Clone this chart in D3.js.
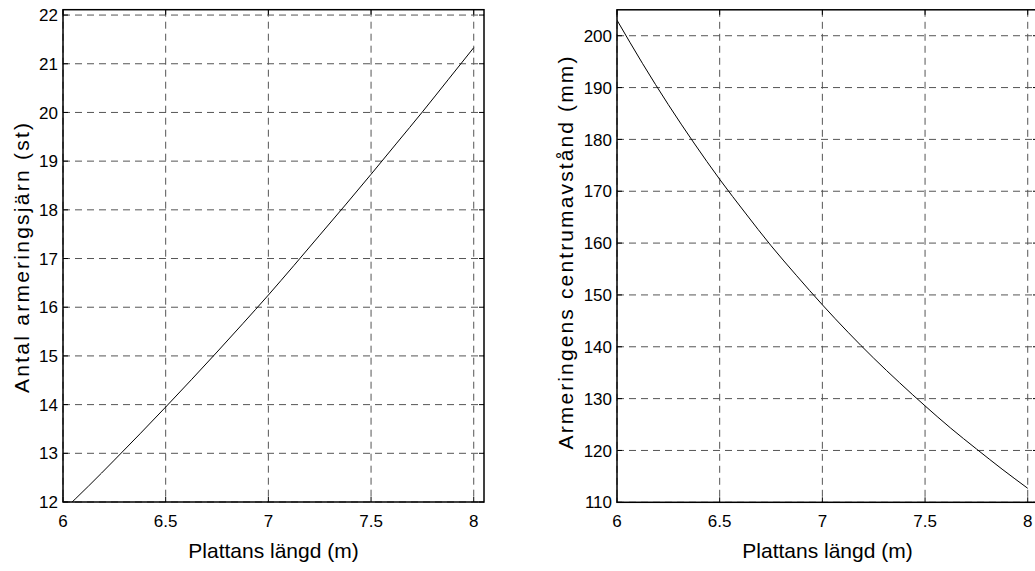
<!DOCTYPE html>
<html>
<head>
<meta charset="utf-8">
<script src="https://cdn.jsdelivr.net/npm/d3@7"></script>
<style>
  body { margin: 0; background: #fff; }
  text { font-family: "Liberation Sans", Arial, sans-serif; fill: #000; }
</style>
</head>
<body>
<svg id="chart" width="1035" height="571"></svg>
<script>
// plate length (m) read at these points
const lengths = [6, 6.125, 6.25, 6.375, 6.5, 6.625, 6.75, 6.875, 7,
                 7.125, 7.25, 7.375, 7.5, 7.625, 7.75, 7.875, 8];
// number of reinforcement bars (st)
const barCount = [11.82, 12.33, 12.86, 13.40, 13.95, 14.51, 15.08, 15.66, 16.25,
                  16.86, 17.48, 18.10, 18.73, 19.37, 20.01, 20.67, 21.33];
// bar spacing (mm)
const barSpacing = [203.0, 194.6, 186.7, 179.3, 172.3, 165.8, 159.5, 153.7, 148.1,
                    142.8, 137.8, 133.1, 128.6, 124.3, 120.3, 116.4, 112.7];

const xTicks = [6, 6.5, 7, 7.5, 8];
const countTicks = [12, 13, 14, 15, 16, 17, 18, 19, 20, 21, 22];
const spacingTicks = [110, 120, 130, 140, 150, 160, 170, 180, 190, 200];

const xLabel = "Plattans längd (m)";
const countLabel = "Antal armeringsjärn (st)";
const spacingLabel = "Armeringens centrumavstånd (mm)";

const svg = d3.select("#chart");

function drawPanel(id, box, yDomain, values, yTicks, yLabel, lab) {
  const x = d3.scaleLinear().domain([6, 8.05]).range([box.left, box.right]);
  const y = d3.scaleLinear().domain(yDomain).range([box.bottom, box.top]);
  const g = svg.append("g");

  g.append("clipPath").attr("id", id)
    .append("rect")
    .attr("x", box.left).attr("y", box.top)
    .attr("width", box.right - box.left).attr("height", box.bottom - box.top);

  // dashed grid
  g.selectAll(".vgrid").data(xTicks).enter().append("line")
    .attr("x1", d => x(d)).attr("x2", d => x(d))
    .attr("y1", box.top).attr("y2", box.bottom)
    .attr("stroke", "#555").attr("stroke-width", 1)
    .attr("stroke-dasharray", "7,5");
  g.selectAll(".hgrid").data(yTicks).enter().append("line")
    .attr("x1", box.left).attr("x2", box.right)
    .attr("y1", d => y(d)).attr("y2", d => y(d))
    .attr("stroke", "#555").attr("stroke-width", 1)
    .attr("stroke-dasharray", "7,5");

  // data line
  const line = d3.line()
    .x((d, i) => x(lengths[i]))
    .y(d => y(d))
    .curve(d3.curveMonotoneX);
  g.append("path").datum(values)
    .attr("clip-path", `url(#${id})`)
    .attr("fill", "none").attr("stroke", "#000").attr("stroke-width", 1)
    .attr("d", line);

  // inward ticks on all four sides
  const tl = 5;
  xTicks.forEach(t => {
    g.append("line").attr("x1", x(t)).attr("x2", x(t))
      .attr("y1", box.bottom).attr("y2", box.bottom - tl).attr("stroke", "#000");
    g.append("line").attr("x1", x(t)).attr("x2", x(t))
      .attr("y1", box.top).attr("y2", box.top + tl).attr("stroke", "#000");
  });
  yTicks.forEach(t => {
    g.append("line").attr("x1", box.left).attr("x2", box.left + tl)
      .attr("y1", y(t)).attr("y2", y(t)).attr("stroke", "#000");
    g.append("line").attr("x1", box.right).attr("x2", box.right - tl)
      .attr("y1", y(t)).attr("y2", y(t)).attr("stroke", "#000");
  });

  // box
  g.append("rect")
    .attr("x", box.left).attr("y", box.top)
    .attr("width", box.right - box.left).attr("height", box.bottom - box.top)
    .attr("fill", "none").attr("stroke", "#000").attr("stroke-width", 1.5);

  // tick labels
  g.selectAll(".xt").data(xTicks).enter().append("text")
    .attr("x", d => x(d)).attr("y", box.bottom + 25)
    .attr("text-anchor", "middle").attr("font-size", 17)
    .text(d => d);
  g.selectAll(".yt").data(yTicks).enter().append("text")
    .attr("x", box.left - 5).attr("y", d => y(d)).attr("dy", "0.36em")
    .attr("text-anchor", "end").attr("font-size", 17)
    .text(d => d);

  // axis titles
  g.append("text")
    .attr("x", (box.left + box.right) / 2).attr("y", 558)
    .attr("text-anchor", "middle").attr("font-size", 21)
    .text(xLabel);
  g.append("text")
    .attr("transform", `translate(${lab.x},${lab.y})rotate(-90)`)
    .attr("text-anchor", "middle").attr("font-size", 21)
    .attr("textLength", lab.len).attr("lengthAdjust", "spacing")
    .text(yLabel);
}

drawPanel("clipL", {left: 63, right: 484, top: 9.7, bottom: 502},
  [12, 22.11], barCount, countTicks, countLabel, {x: 29, y: 258, len: 270});

drawPanel("clipR", {left: 617, right: 1038, top: 9.8, bottom: 502.3},
  [110, 205], barSpacing, spacingTicks, spacingLabel, {x: 573, y: 253, len: 393});
</script>
</body>
</html>
